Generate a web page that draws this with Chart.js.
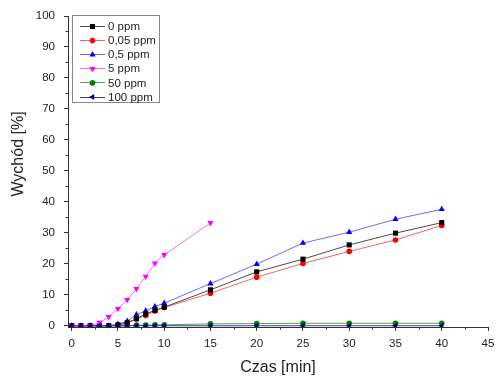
<!DOCTYPE html>
<html>
<head>
<meta charset="utf-8">
<script src="https://cdn.jsdelivr.net/npm/chart.js@4/dist/chart.umd.min.js"></script>
<style>
  html, body { margin: 0; padding: 0; background: #fff; }
  #wrap { width: 496px; height: 377px; }
</style>
</head>
<body>
<div id="wrap"><canvas id="grafico" width="496" height="377"></canvas></div>
<script>
// czas [min]
const czas = [0, 1, 2, 3, 4, 5, 6, 7, 8, 9, 10, 15, 20, 25, 30, 35, 40];
// wychod [%] dla kazdego stezenia
const ppm0   = [0, 0, 0, 0, 0, 0.3, 1.0, 2.3, 3.8, 5.0, 6.0, 11.6, 17.4, 21.5, 26.1, 29.9, 33.3];
const ppm005 = [0, 0, 0, 0, 0, 0.2, 0.8, 2.2, 3.3, 4.8, 5.9, 10.5, 15.7, 20.1, 24.0, 27.7, 32.4];
const ppm05  = [0, 0, 0, 0, 0, 0.5, 1.5, 3.6, 4.8, 6.2, 7.3, 13.6, 19.9, 26.7, 30.2, 34.4, 37.6];
const ppm5   = [0, 0, 0, 1.0, 2.9, 5.5, 8.4, 11.9, 15.9, 20.2, 22.9, 33.2];
const ppm50  = [0, 0, 0, 0, 0, 0, 0, 0.2, 0.2, 0.3, 0.3, 0.6, 0.7, 0.8, 0.8, 0.8, 0.8];
const ppm100 = [0, 0, 0, 0, 0, 0, 0, 0, 0, 0, 0, 0, 0, 0, 0, 0, 0];

const etiquetas = ['0 ppm', '0,05 ppm', '0,5 ppm', '5 ppm', '50 ppm', '100 ppm'];
const xTicks = [0, 5, 10, 15, 20, 25, 30, 35, 40, 45];
const yTicks = [0, 10, 20, 30, 40, 50, 60, 70, 80, 90, 100];
const xMinor = [2.5, 7.5, 12.5, 17.5, 22.5, 27.5, 32.5, 37.5, 42.5];
const yMinor = [5, 15, 25, 35, 45, 55, 65, 75, 85, 95];

function puntos(valores) {
    return valores.map((v, i) => ({ x: czas[i], y: v }));
}

const estilos = [
    { color: '#000000', linea: '#4a4a4a', forma: 'rect', rot: 0, r: 3.6 },
    { color: '#ff0000', linea: '#ff6060', forma: 'circle', rot: 0, r: 2.8 },
    { color: '#0000ff', linea: '#6a6aff', forma: 'triangle', rot: 0, r: 3.6 },
    { color: '#ff00ff', linea: '#ff66ff', forma: 'triangle', rot: 180, r: 3.6 },
    { color: '#008000', linea: '#50a850', forma: 'circle', rot: 0, r: 2.8 },
    { color: '#000080', linea: '#3a3aa0', forma: 'triangle', rot: -90, r: 3.4 }
];
const series = [ppm0, ppm005, ppm05, ppm5, ppm50, ppm100];
const orden = [2, 3, 4, 1, 5, 0];

const datasets = series.map((s, i) => ({
    label: etiquetas[i],
    data: puntos(s),
    borderColor: estilos[i].linea,
    backgroundColor: estilos[i].color,
    pointBackgroundColor: estilos[i].color,
    pointBorderColor: estilos[i].color,
    borderWidth: 1,
    pointStyle: estilos[i].forma,
    rotation: estilos[i].rot,
    pointRadius: estilos[i].r,
    pointBorderWidth: 0,
    tension: 0,
    order: orden[i]
}));

// leyenda con caja, ticks menores y titulos de ejes
const extras = {
    id: 'extras',
    afterDraw(chart) {
        const ctx = chart.ctx;
        const xs = chart.scales.x, ys = chart.scales.y;
        ctx.save();
        // ticks menores
        ctx.strokeStyle = '#333';
        ctx.lineWidth = 1;
        ctx.beginPath();
        xMinor.forEach(v => {
            const px = Math.round(xs.getPixelForValue(v)) + 0.5;
            ctx.moveTo(px, ys.bottom); ctx.lineTo(px, ys.bottom + 2.5);
        });
        yMinor.forEach(v => {
            const py = Math.round(ys.getPixelForValue(v)) + 0.5;
            ctx.moveTo(xs.left, py); ctx.lineTo(xs.left - 2.5, py);
        });
        ctx.stroke();

        // titulos
        ctx.fillStyle = '#222';
        ctx.font = '16px "Liberation Sans", Arial, sans-serif';
        ctx.textAlign = 'center';
        ctx.textBaseline = 'middle';
        ctx.fillText('Czas [min]', (xs.left + xs.right) / 2, 368);
        ctx.save();
        ctx.translate(19, 154);
        ctx.rotate(-Math.PI / 2);
        ctx.fillText('Wychód [%]', 0, 0);
        ctx.restore();

        // leyenda
        const bx = 72.5, by = 15.5, bw = 87, bh = 87;
        ctx.strokeStyle = '#888';
        ctx.lineWidth = 1;
        ctx.fillStyle = '#fff';
        ctx.fillRect(bx, by, bw, bh);
        ctx.strokeRect(bx, by, bw, bh);
        ctx.font = '11.5px "Liberation Sans", Arial, sans-serif';
        ctx.textAlign = 'left';
        etiquetas.forEach((et, i) => {
            const yy = 26 + i * 14.1;
            ctx.strokeStyle = estilos[i].linea;
            ctx.beginPath();
            ctx.moveTo(80, Math.round(yy) + 0.5); ctx.lineTo(105, Math.round(yy) + 0.5);
            ctx.stroke();
            ctx.fillStyle = estilos[i].color;
            Chart.helpers.drawPoint(ctx, {
                pointStyle: estilos[i].forma,
                rotation: estilos[i].rot,
                radius: estilos[i].r,
                borderWidth: 0
            }, 92.5, yy + 0.5);
            ctx.fillStyle = '#222';
            ctx.fillText(et, 108, yy + 1);
        });
        ctx.restore();
    }
};

const ctx = document.getElementById('grafico').getContext('2d');
new Chart(ctx, {
    type: 'line',
    data: { datasets: datasets },
    plugins: [extras],
    options: {
        responsive: false,
        animation: false,
        layout: { padding: { top: 16, right: 8, left: 0, bottom: 0 } },
        plugins: { legend: { display: false }, tooltip: { enabled: false } },
        scales: {
            x: {
                type: 'linear',
                min: -0.4,
                max: 45,
                afterFit: s => { s.height = 50; s.paddingRight = 0; s.paddingLeft = 0; },
                afterBuildTicks: s => { s.ticks = xTicks.map(v => ({ value: v })); },
                border: { display: true, color: '#333', width: 1 },
                grid: { drawOnChartArea: false, drawTicks: true, tickLength: 4, color: '#333' },
                ticks: {
                    color: '#222',
                    padding: 6,
                    maxRotation: 0,
                    font: { family: '"Liberation Sans", Arial, sans-serif', size: 11.5 }
                }
            },
            y: {
                min: -0.4,
                max: 100,
                afterFit: s => { s.width = 68; s.paddingTop = 0; s.paddingBottom = 0; },
                afterBuildTicks: s => { s.ticks = yTicks.map(v => ({ value: v })); },
                border: { display: true, color: '#333', width: 1 },
                grid: { drawOnChartArea: false, drawTicks: true, tickLength: 4, color: '#333' },
                ticks: {
                    color: '#222',
                    padding: 9,
                    font: { family: '"Liberation Sans", Arial, sans-serif', size: 11.5 }
                }
            }
        }
    }
});
</script>
</body>
</html>
